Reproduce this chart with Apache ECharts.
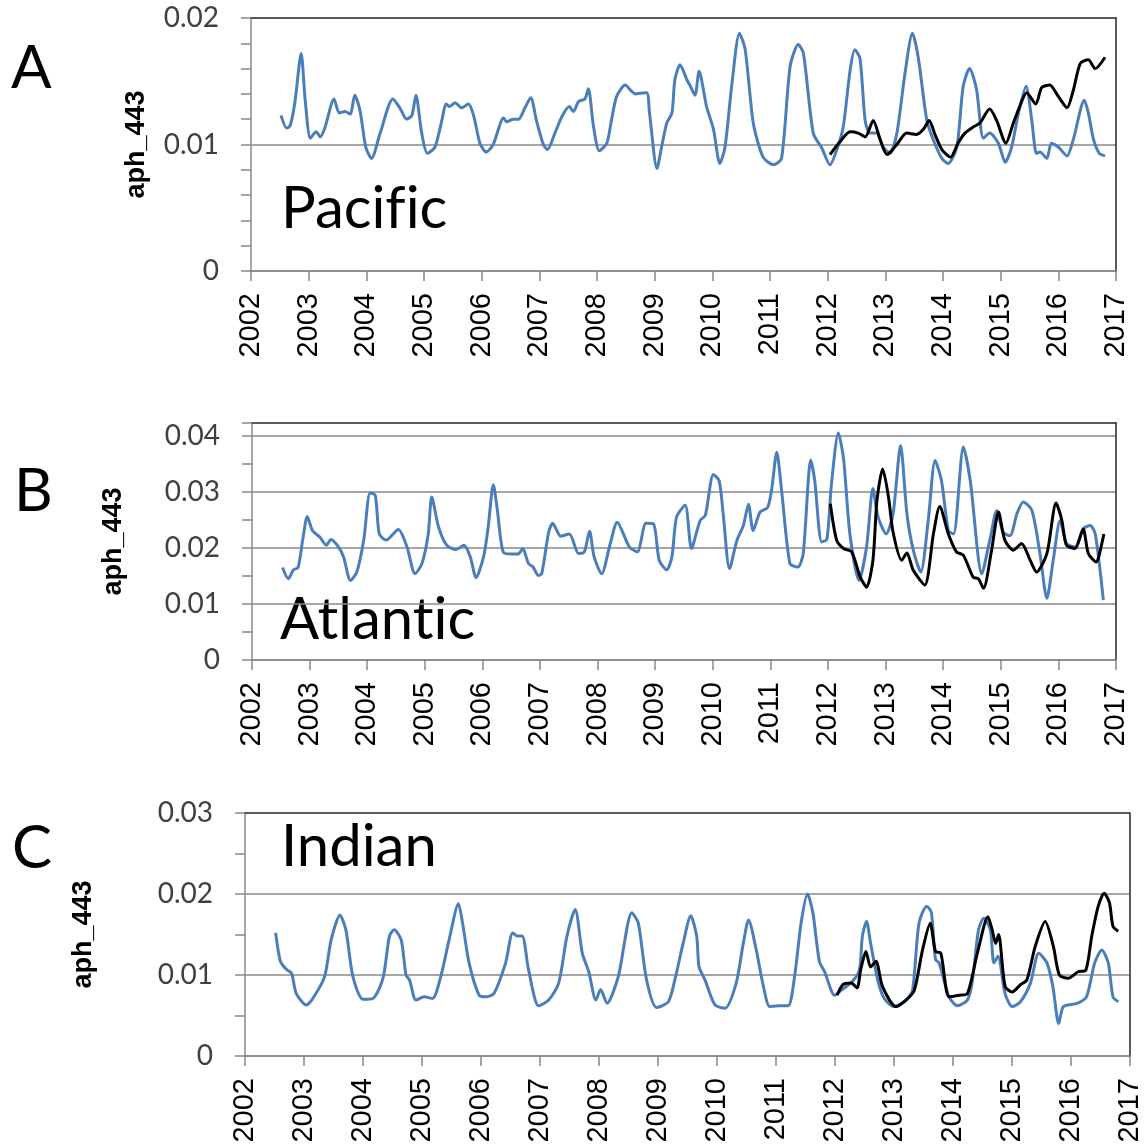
<!DOCTYPE html>
<html lang="en">
<head>
<meta charset="UTF-8">
<title>aph_443</title>
<script src="https://cdn.jsdelivr.net/npm/echarts@6/dist/echarts.min.js"></script>
<style>
  html, body { margin: 0; padding: 0; background: #fff; }
  #main { width: 1144px; height: 1148px; }
</style>
</head>
<body>
<div id="main"></div>
<script>
// [decimal year, aph_443]
const pacificSat = [[2002.52,0.0123],[2002.62,0.0113],[2002.68,0.0115],[2002.76,0.0133],[2002.87,0.0172],[2002.94,0.0135],[2003.03,0.0105],[2003.13,0.0110],[2003.20,0.0106],[2003.28,0.0113],[2003.44,0.0136],[2003.53,0.0125],[2003.63,0.0126],[2003.72,0.0124],[2003.80,0.0139],[2003.89,0.0127],[2003.99,0.0098],[2004.09,0.0089],[2004.24,0.0109],[2004.46,0.0136],[2004.58,0.0129],[2004.70,0.0120],[2004.79,0.0123],[2004.86,0.0139],[2004.96,0.0109],[2005.06,0.0093],[2005.19,0.0098],[2005.31,0.0119],[2005.38,0.0132],[2005.44,0.0130],[2005.54,0.0133],[2005.65,0.0129],[2005.77,0.0132],[2005.86,0.0123],[2005.97,0.0101],[2006.08,0.0094],[2006.20,0.0100],[2006.38,0.0121],[2006.43,0.0118],[2006.55,0.0120],[2006.64,0.0120],[2006.75,0.0129],[2006.85,0.0137],[2006.95,0.0119],[2007.07,0.0100],[2007.14,0.0096],[2007.27,0.0109],[2007.39,0.0122],[2007.52,0.0130],[2007.59,0.0126],[2007.68,0.0134],[2007.79,0.0136],[2007.85,0.0144],[2007.94,0.0114],[2008.04,0.0095],[2008.17,0.0101],[2008.25,0.0119],[2008.34,0.0138],[2008.49,0.0147],[2008.60,0.0142],[2008.67,0.0140],[2008.86,0.0141],[2008.91,0.0125],[2009.04,0.0081],[2009.12,0.0098],[2009.21,0.0117],[2009.30,0.0125],[2009.35,0.0151],[2009.44,0.0163],[2009.56,0.0151],[2009.61,0.0147],[2009.70,0.0139],[2009.77,0.0158],[2009.90,0.0130],[2010.02,0.0112],[2010.13,0.0085],[2010.22,0.0098],[2010.34,0.0148],[2010.47,0.0188],[2010.57,0.0175],[2010.71,0.0117],[2010.88,0.0090],[2011.06,0.0084],[2011.20,0.0089],[2011.35,0.0162],[2011.49,0.0179],[2011.58,0.0172],[2011.75,0.0109],[2011.90,0.0097],[2012.04,0.0084],[2012.16,0.0096],[2012.27,0.0114],[2012.39,0.0159],[2012.47,0.0175],[2012.56,0.0168],[2012.65,0.0119],[2012.73,0.0109],[2012.85,0.0109],[2012.96,0.0098],[2013.08,0.0093],[2013.20,0.0109],[2013.34,0.0156],[2013.47,0.0188],[2013.57,0.0169],[2013.72,0.0119],[2013.83,0.0104],[2013.98,0.0089],[2014.09,0.0085],[2014.24,0.0098],[2014.35,0.0146],[2014.46,0.0160],[2014.58,0.0144],[2014.70,0.0105],[2014.81,0.0109],[2014.96,0.0101],[2015.08,0.0086],[2015.19,0.0098],[2015.31,0.0125],[2015.44,0.0146],[2015.54,0.0119],[2015.62,0.0093],[2015.68,0.0094],[2015.80,0.0089],[2015.88,0.0101],[2016.00,0.0098],[2016.15,0.0091],[2016.26,0.0104],[2016.45,0.0135],[2016.52,0.0125],[2016.61,0.0104],[2016.71,0.0093],[2016.81,0.0091]];
const pacificModel = [[2012.04,0.0092],[2012.21,0.0102],[2012.39,0.0110],[2012.53,0.0109],[2012.65,0.0106],[2012.79,0.0119],[2012.91,0.0104],[2013.03,0.0092],[2013.20,0.0100],[2013.37,0.0109],[2013.54,0.0108],[2013.66,0.0112],[2013.76,0.0119],[2013.86,0.0108],[2013.98,0.0096],[2014.13,0.0090],[2014.26,0.0101],[2014.38,0.0109],[2014.53,0.0114],[2014.64,0.0117],[2014.81,0.0128],[2014.93,0.0119],[2015.09,0.0101],[2015.22,0.0117],[2015.33,0.0130],[2015.45,0.0141],[2015.61,0.0132],[2015.71,0.0145],[2015.85,0.0147],[2016.00,0.0138],[2016.15,0.0129],[2016.26,0.0143],[2016.38,0.0164],[2016.52,0.0167],[2016.64,0.0160],[2016.81,0.0169]];

const atlanticSat = [[2002.53,0.0165],[2002.63,0.0145],[2002.72,0.0161],[2002.80,0.0165],[2002.88,0.0214],[2002.96,0.0256],[2003.05,0.0231],[2003.18,0.0219],[2003.29,0.0205],[2003.37,0.0215],[2003.50,0.0202],[2003.59,0.0184],[2003.71,0.0142],[2003.82,0.0157],[2003.94,0.0214],[2004.05,0.0298],[2004.14,0.0294],[2004.21,0.0225],[2004.33,0.0214],[2004.54,0.0233],[2004.69,0.0202],[2004.83,0.0154],[2004.95,0.0172],[2005.06,0.0225],[2005.12,0.0291],[2005.24,0.0237],[2005.38,0.0205],[2005.54,0.0197],[2005.68,0.0205],[2005.79,0.0184],[2005.89,0.0147],[2006.02,0.0184],[2006.10,0.0237],[2006.19,0.0313],[2006.26,0.0267],[2006.36,0.0193],[2006.51,0.0189],[2006.62,0.0189],[2006.70,0.0199],[2006.80,0.0172],[2006.88,0.0166],[2006.97,0.0151],[2007.03,0.0154],[2007.15,0.0228],[2007.22,0.0244],[2007.36,0.0221],[2007.51,0.0225],[2007.67,0.0190],[2007.77,0.0193],[2007.86,0.0230],[2007.94,0.0184],[2008.07,0.0154],[2008.22,0.0208],[2008.34,0.0246],[2008.55,0.0202],[2008.69,0.0193],[2008.84,0.0244],[2008.97,0.0243],[2009.07,0.0178],[2009.20,0.0161],[2009.29,0.0184],[2009.37,0.0255],[2009.52,0.0276],[2009.63,0.0199],[2009.78,0.0249],[2009.87,0.0258],[2010.01,0.0331],[2010.11,0.0320],[2010.18,0.0261],[2010.29,0.0163],[2010.42,0.0214],[2010.53,0.0240],[2010.62,0.0278],[2010.70,0.0231],[2010.82,0.0264],[2010.95,0.0272],[2011.02,0.0303],[2011.11,0.0371],[2011.20,0.0297],[2011.34,0.0172],[2011.48,0.0166],[2011.57,0.0190],[2011.70,0.0357],[2011.77,0.0320],[2011.89,0.0211],[2011.98,0.0215],[2012.06,0.0314],[2012.18,0.0405],[2012.27,0.0359],[2012.38,0.0225],[2012.54,0.0142],[2012.67,0.0202],[2012.78,0.0306],[2012.87,0.0255],[2013.01,0.0225],[2013.13,0.0261],[2013.26,0.0383],[2013.37,0.0261],[2013.48,0.0196],[2013.61,0.0157],[2013.74,0.0249],[2013.86,0.0356],[2013.97,0.0320],[2014.09,0.0231],[2014.18,0.0225],[2014.35,0.0380],[2014.47,0.0320],[2014.67,0.0154],[2014.81,0.0214],[2014.93,0.0267],[2015.04,0.0228],[2015.16,0.0222],[2015.28,0.0261],[2015.39,0.0282],[2015.54,0.0267],[2015.68,0.0190],[2015.80,0.0110],[2015.91,0.0178],[2016.03,0.0249],[2016.14,0.0208],[2016.29,0.0202],[2016.43,0.0234],[2016.55,0.0240],[2016.64,0.0225],[2016.78,0.0107]];
const atlanticModel = [[2012.04,0.0279],[2012.15,0.0214],[2012.27,0.0199],[2012.41,0.0193],[2012.56,0.0148],[2012.67,0.0130],[2012.78,0.0178],[2012.85,0.0285],[2012.95,0.0341],[2013.05,0.0291],[2013.13,0.0228],[2013.28,0.0178],[2013.37,0.0191],[2013.48,0.0160],[2013.68,0.0134],[2013.83,0.0225],[2013.94,0.0274],[2014.09,0.0225],[2014.23,0.0193],[2014.35,0.0187],[2014.52,0.0148],[2014.61,0.0145],[2014.70,0.0128],[2014.84,0.0196],[2014.96,0.0264],[2015.07,0.0214],[2015.22,0.0196],[2015.36,0.0208],[2015.51,0.0178],[2015.62,0.0157],[2015.80,0.0190],[2015.96,0.0280],[2016.06,0.0249],[2016.14,0.0205],[2016.29,0.0199],[2016.43,0.0234],[2016.52,0.0190],[2016.66,0.0175],[2016.70,0.0184],[2016.79,0.0225]];

const indianSat = [[2002.52,0.0152],[2002.60,0.0117],[2002.70,0.0107],[2002.79,0.0102],[2002.87,0.0077],[2003.04,0.0063],[2003.15,0.0071],[2003.35,0.0098],[2003.46,0.0143],[2003.61,0.0174],[2003.71,0.0156],[2003.83,0.0098],[2004.00,0.0070],[2004.17,0.0071],[2004.34,0.0096],[2004.45,0.0148],[2004.53,0.0156],[2004.65,0.0143],[2004.73,0.0100],[2004.79,0.0094],[2004.90,0.0069],[2005.04,0.0073],[2005.18,0.0071],[2005.32,0.0098],[2005.46,0.0143],[2005.62,0.0188],[2005.69,0.0164],[2005.80,0.0115],[2005.97,0.0075],[2006.08,0.0073],[2006.22,0.0077],[2006.42,0.0115],[2006.54,0.0152],[2006.62,0.0148],[2006.70,0.0148],[2006.81,0.0106],[2006.98,0.0062],[2007.15,0.0069],[2007.32,0.0090],[2007.46,0.0148],[2007.60,0.0181],[2007.72,0.0127],[2007.83,0.0104],[2007.95,0.0069],[2008.03,0.0082],[2008.14,0.0065],[2008.33,0.0098],[2008.56,0.0177],[2008.67,0.0164],[2008.81,0.0094],[2008.98,0.0060],[2009.18,0.0067],[2009.29,0.0094],[2009.43,0.0139],[2009.56,0.0173],[2009.66,0.0148],[2009.70,0.0110],[2009.80,0.0094],[2009.97,0.0063],[2010.14,0.0059],[2010.33,0.0090],[2010.45,0.0139],[2010.54,0.0168],[2010.67,0.0131],[2010.78,0.0090],[2010.90,0.0061],[2011.04,0.0062],[2011.21,0.0062],[2011.32,0.0098],[2011.43,0.0164],[2011.54,0.0200],[2011.63,0.0177],[2011.74,0.0117],[2011.83,0.0104],[2012.00,0.0075],[2012.11,0.0081],[2012.30,0.0092],[2012.42,0.0106],[2012.47,0.0148],[2012.54,0.0166],[2012.61,0.0139],[2012.73,0.0094],[2012.84,0.0071],[2013.01,0.0061],[2013.21,0.0069],[2013.32,0.0081],[2013.43,0.0164],[2013.56,0.0185],[2013.64,0.0177],[2013.71,0.0119],[2013.77,0.0115],[2013.94,0.0073],[2014.08,0.0062],[2014.25,0.0069],[2014.33,0.0090],[2014.44,0.0156],[2014.53,0.0170],[2014.64,0.0156],[2014.70,0.0115],[2014.77,0.0123],[2014.89,0.0077],[2015.01,0.0061],[2015.15,0.0067],[2015.32,0.0090],[2015.46,0.0127],[2015.60,0.0115],[2015.70,0.0086],[2015.80,0.0040],[2015.88,0.0061],[2016.11,0.0065],[2016.27,0.0073],[2016.41,0.0115],[2016.53,0.0131],[2016.64,0.0115],[2016.72,0.0073],[2016.81,0.0067]];
const indianModel = [[2012.04,0.0075],[2012.14,0.0088],[2012.28,0.0090],[2012.38,0.0084],[2012.44,0.0106],[2012.53,0.0129],[2012.61,0.0110],[2012.70,0.0117],[2012.81,0.0086],[2013.04,0.0061],[2013.21,0.0069],[2013.35,0.0081],[2013.49,0.0131],[2013.62,0.0164],[2013.71,0.0129],[2013.80,0.0127],[2013.94,0.0073],[2014.11,0.0075],[2014.25,0.0077],[2014.42,0.0127],[2014.60,0.0172],[2014.67,0.0156],[2014.73,0.0139],[2014.78,0.0150],[2014.89,0.0086],[2015.01,0.0079],[2015.15,0.0088],[2015.26,0.0094],[2015.40,0.0135],[2015.57,0.0166],[2015.71,0.0135],[2015.81,0.0100],[2015.96,0.0096],[2016.13,0.0104],[2016.26,0.0106],[2016.36,0.0148],[2016.47,0.0185],[2016.57,0.0201],[2016.66,0.0189],[2016.72,0.0160],[2016.81,0.0154]];

const panelLetters = ['A', 'B', 'C'];
// zero-width non-joiners keep the font from merging f/i and t/i into ligatures
const oceanNames = ['Pacif\u200Cic', 'Atlant\u200Cic', 'Indian'];
const yMax = [0.02, 0.0423, 0.03];
const yMinorSplit = [5, 2, 2];

// layout
const grids = [
    {left: 251, top: 18, width: 865, height: 253},
    {left: 252, top: 423, width: 864, height: 237},
    {left: 245, top: 813, width: 888, height: 243}
];
const nameGaps = [101, 125, 148];
const letterPos = [[11, 69], [14, 492], [12, 849]];
const oceanPos = [[281, 209], [280, 620], [281, 847]];

const AXIS_GREY = '#888888';
const BORDER = '#262626';
const BLUE = '#4a7ebb';

let xAxes = [], yAxes = [], series = [], graphics = [];

grids.forEach(function (g, i) {
    xAxes.push({
        type: 'value', gridIndex: i, min: 2002, max: 2017, interval: 1,
        axisLine: {show: true, onZero: false, lineStyle: {color: AXIS_GREY, width: 1.5}},
        axisTick: {show: true, length: 10, lineStyle: {color: AXIS_GREY, width: 1.5}},
        axisLabel: {
            rotate: 90, margin: 22, fontSize: 29, color: '#000',
            fontFamily: 'Liberation Sans',
            formatter: function (v) { return String(v); }
        },
        splitLine: {show: false}
    });
    yAxes.push({
        type: 'value', gridIndex: i, min: 0, max: yMax[i], interval: 0.01,
        name: 'aph_443', nameLocation: 'middle', nameGap: nameGaps[i],
        nameTextStyle: {fontFamily: 'Liberation Sans', fontWeight: 'bold', fontSize: 27, color: '#000'},
        axisLine: {show: true, onZero: false, lineStyle: {color: AXIS_GREY, width: 1.5}},
        axisTick: {show: true, length: 10, lineStyle: {color: AXIS_GREY, width: 1.5}},
        minorTick: {show: true, splitNumber: yMinorSplit[i], length: 10, lineStyle: {color: AXIS_GREY, width: 1.5}},
        axisLabel: {
            margin: 32, fontSize: 28, color: '#404040', fontFamily: 'Lato',
            formatter: function (v) {
                if (Math.abs(v * 100 - Math.round(v * 100)) > 1e-6) return '';
                return v === 0 ? '0' : v.toFixed(2);
            }
        },
        splitLine: {show: true, showMaxLine: false, lineStyle: {color: AXIS_GREY, width: 1.5}}
    });
});

// top / right border of each plot area
grids.forEach(function (g, i) {
    xAxes.push({
        type: 'value', gridIndex: i, position: 'top', min: 0, max: 1,
        axisLine: {show: true, onZero: false, lineStyle: {color: BORDER, width: 1.5}},
        axisTick: {show: false}, axisLabel: {show: false}, splitLine: {show: false}
    });
    yAxes.push({
        type: 'value', gridIndex: i, position: 'right', min: 0, max: 1,
        axisLine: {show: true, onZero: false, lineStyle: {color: BORDER, width: 1.5}},
        axisTick: {show: false}, axisLabel: {show: false}, splitLine: {show: false}
    });
});

const panels = [[pacificSat, pacificModel], [atlanticSat, atlanticModel], [indianSat, indianModel]];
panels.forEach(function (p, i) {
    series.push({
        type: 'line', xAxisIndex: i, yAxisIndex: i, data: p[0],
        showSymbol: false, smooth: 0.25, lineStyle: {color: BLUE, width: 3}, z: 3
    });
    series.push({
        type: 'line', xAxisIndex: i, yAxisIndex: i, data: p[1],
        showSymbol: false, smooth: 0.25, lineStyle: {color: '#000', width: 3}, z: 4
    });
    graphics.push({
        type: 'text', x: letterPos[i][0], y: letterPos[i][1],
        style: {text: panelLetters[i], font: '60px Lato', fill: '#000', align: 'left', verticalAlign: 'middle'}
    });
    graphics.push({
        type: 'text', x: oceanPos[i][0], y: oceanPos[i][1],
        style: {text: oceanNames[i], font: '58px Lato', fill: '#000', align: 'left', verticalAlign: 'middle'}
    });
});

let myChart = echarts.init(document.getElementById('main'));
myChart.setOption({
    animation: false,
    backgroundColor: '#fff',
    grid: grids,
    xAxis: xAxes,
    yAxis: yAxes,
    series: series,
    graphic: graphics
});
</script>
</body>
</html>
